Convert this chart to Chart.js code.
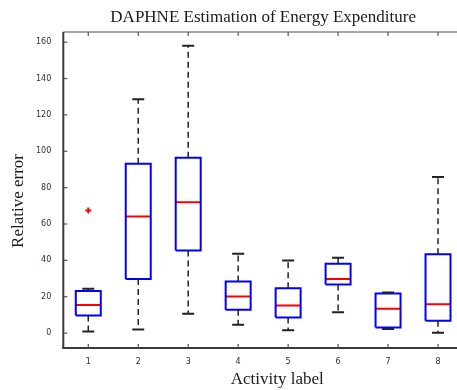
<!DOCTYPE html>
<html>
<head>
<meta charset="utf-8">
<script src="https://cdn.jsdelivr.net/npm/chart.js@4/dist/chart.umd.min.js"></script>
<style>
html, body { margin: 0; padding: 0; background: #fff; overflow: hidden; }
#wrap { width: 470px; height: 390px; }
</style>
</head>
<body>
<div id="wrap"><canvas id="boxChart"></canvas></div>
<script>
// box plot values per activity label
const activities = [1, 2, 3, 4, 5, 6, 7, 8];
const whiskerLow = [0.9, 2.0, 10.6, 4.6, 1.6, 11.5, 2.2, 0.2];
const quartile1 = [9.7, 29.7, 45.4, 12.8, 8.6, 26.7, 3.1, 6.8];
const medians = [15.4, 64.1, 72.0, 20.1, 15.2, 29.7, 13.4, 15.9];
const quartile3 = [23.1, 93.1, 96.5, 28.4, 24.7, 38.1, 21.8, 43.4];
const whiskerHigh = [24.4, 128.6, 158.1, 43.6, 39.9, 41.4, 22.3, 85.8];
const outlierActivity = [1];
const outlierValues = [67.4];
const yTicks = [0, 20, 40, 60, 80, 100, 120, 140, 160];

const BOX_HALF = 0.25;
const CAP_HALF = 0.12;

const gap = (c) => ({ x: c, y: null });

const boxPoints = [];
const medianPoints = [];
const whiskerPoints = [];
const capPoints = [];

activities.forEach((c, i) => {
  boxPoints.push(
    { x: c - BOX_HALF, y: quartile1[i] }, { x: c + BOX_HALF, y: quartile1[i] },
    { x: c + BOX_HALF, y: quartile3[i] }, { x: c - BOX_HALF, y: quartile3[i] },
    { x: c - BOX_HALF, y: quartile1[i] }, gap(c)
  );
  medianPoints.push({ x: c - BOX_HALF, y: medians[i] }, { x: c + BOX_HALF, y: medians[i] }, gap(c));
  whiskerPoints.push(
    { x: c, y: quartile3[i] }, { x: c, y: whiskerHigh[i] }, gap(c),
    { x: c, y: quartile1[i] }, { x: c, y: whiskerLow[i] }, gap(c)
  );
  capPoints.push(
    { x: c - CAP_HALF, y: whiskerHigh[i] }, { x: c + CAP_HALF, y: whiskerHigh[i] }, gap(c),
    { x: c - CAP_HALF, y: whiskerLow[i] }, { x: c + CAP_HALF, y: whiskerLow[i] }, gap(c)
  );
});

const outlierPoints = outlierActivity.map((c, i) => ({ x: c, y: outlierValues[i] }));

// matlab style frame: axis lines with inward ticks, plus axis titles
const framePlugin = {
  id: 'frame',
  afterDraw(chart) {
    const { ctx, chartArea: a, scales: { x, y } } = chart;
    const seg = (x1, y1, x2, y2) => { ctx.beginPath(); ctx.moveTo(x1, y1); ctx.lineTo(x2, y2); ctx.stroke(); };
    ctx.save();
    ctx.strokeStyle = '#8a8a8a';
    ctx.lineWidth = 1.5;
    seg(a.left, a.top, a.right, a.top);
    ctx.strokeStyle = '#3a3a3a';
    ctx.lineWidth = 2;
    seg(a.left, a.top, a.left, a.bottom);
    seg(a.left - 1, a.bottom, a.right, a.bottom);
    ctx.lineWidth = 1.2;
    ctx.strokeStyle = '#555';
    yTicks.forEach(v => {
      const py = y.getPixelForValue(v);
      seg(a.left, py, a.left + 4, py);
    });
    activities.forEach(c => {
      const px = x.getPixelForValue(c);
      seg(px, a.bottom, px, a.bottom - 4);
      seg(px, a.top, px, a.top + 4);
    });

    ctx.fillStyle = '#1a1a1a';
    ctx.font = '17px "Liberation Serif", serif';
    ctx.textAlign = 'center';
    ctx.textBaseline = 'middle';
    ctx.fillText('Activity label', a.left + 214, a.bottom + 32);
    ctx.translate(a.left - 45, (a.top + a.bottom) / 2 + 11);
    ctx.rotate(-Math.PI / 2);
    ctx.fillText('Relative error', 0, 0);
    ctx.restore();
  }
};

const lineSet = (data, color, width, dash) => ({
  type: 'line',
  data: data,
  borderColor: color,
  borderWidth: width,
  borderDash: dash || [],
  pointRadius: 0,
  spanGaps: false,
  fill: false
});

new Chart(document.getElementById('boxChart').getContext('2d'), {
  type: 'line',
  data: {
    datasets: [
      lineSet(whiskerPoints, '#222', 1.5, [6, 4]),
      lineSet(capPoints, '#222', 2),
      lineSet(boxPoints, '#0000ff', 2),
      lineSet(medianPoints, '#ff0000', 2),
      {
        type: 'scatter',
        data: outlierPoints,
        pointStyle: 'cross',
        pointRadius: 3,
        borderColor: '#ff0000',
        borderWidth: 2,
        backgroundColor: '#ff0000'
      }
    ]
  },
  options: {
    responsive: true,
    maintainAspectRatio: false,
    animation: false,
    layout: { padding: { left: 0, right: 7, top: 0, bottom: 0 } },
    plugins: {
      legend: { display: false },
      tooltip: { enabled: false },
      title: {
        display: true,
        fullSize: false,
        text: 'DAPHNE Estimation of Energy Expenditure',
        color: '#1a1a1a',
        font: { family: '"Liberation Serif", serif', size: 17, weight: 'normal' },
        padding: { top: 7, bottom: 4.6 }
      }
    },
    scales: {
      x: {
        type: 'linear',
        min: 0.5,
        max: 8.5,
        grid: { display: false, drawTicks: false },
        border: { display: false },
        afterBuildTicks: (scale) => { scale.ticks = activities.map(v => ({ value: v })); },
        afterFit: (scale) => { scale.height = 42; },
        ticks: {
          padding: 9,
          color: '#2e2a3a',
          font: { family: '"DejaVu Sans", sans-serif', size: 8 }
        }
      },
      y: {
        type: 'linear',
        min: -8.2,
        max: 165.6,
        grid: { display: false, drawTicks: false },
        border: { display: false },
        afterBuildTicks: (scale) => { scale.ticks = yTicks.map(v => ({ value: v })); },
        afterFit: (scale) => { scale.width = 63.3; },
        ticks: {
          padding: 12,
          color: '#3a2a44',
          font: { family: '"DejaVu Sans", sans-serif', size: 8 }
        }
      }
    }
  },
  plugins: [framePlugin]
});
</script>
</body>
</html>
